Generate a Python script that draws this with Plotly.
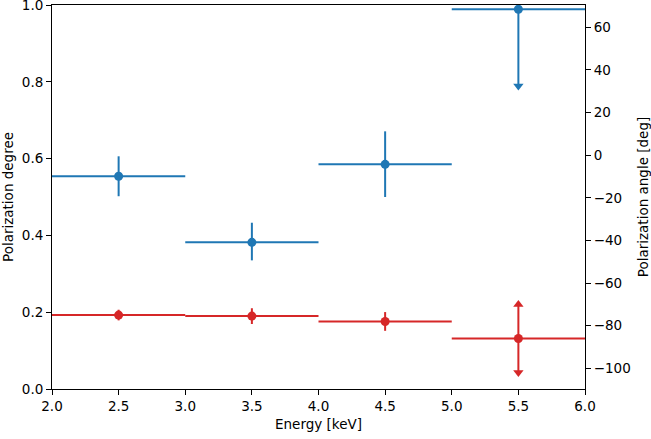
import plotly.graph_objects as go

# ---- data ----
energy = [2.5, 3.5, 4.5, 5.5]
energy_halfwidth = [0.5, 0.5, 0.5, 0.5]

pol_degree = [0.554, 0.382, 0.585, 0.989]
pol_degree_err_plus = [0.052, 0.051, 0.086, 0.0]
pol_degree_err_minus = [0.052, 0.047, 0.085, 0.200]
pol_degree_uplim = [False, False, False, True]

pol_angle = [-75.0, -75.5, -78.0, -86.0]
pol_angle_err = [2.5, 3.7, 4.4, 16.0]
pol_angle_unconstrained = [False, False, False, True]

x_ticks = [2.0, 2.5, 3.0, 3.5, 4.0, 4.5, 5.0, 5.5, 6.0]
left_ticks = [0.0, 0.2, 0.4, 0.6, 0.8, 1.0]
right_ticks = [-100, -80, -60, -40, -20, 0, 20, 40, 60]

BLUE = "#1f77b4"
RED = "#d62728"
FONT = "DejaVu Sans"
FS = 13.5

fig = go.Figure()

# Polarization degree (left axis)
fig.add_trace(go.Scatter(
    x=energy, y=pol_degree, mode="markers",
    marker=dict(color=BLUE, size=9, symbol="circle"),
    error_x=dict(type="data", array=energy_halfwidth, symmetric=True,
                 color=BLUE, thickness=2, width=0),
    error_y=dict(type="data", array=pol_degree_err_plus,
                 arrayminus=pol_degree_err_minus, symmetric=False,
                 color=BLUE, thickness=2, width=0),
    showlegend=False, yaxis="y", cliponaxis=False,
))
ul_x = [e for e, u in zip(energy, pol_degree_uplim) if u]
ul_y = [v - m for v, m, u in zip(pol_degree, pol_degree_err_minus, pol_degree_uplim) if u]
fig.add_trace(go.Scatter(
    x=ul_x, y=ul_y, mode="markers",
    marker=dict(color=BLUE, size=9, symbol="triangle-down", line=dict(width=0)),
    showlegend=False, yaxis="y",
))

# Polarization angle (right axis)
fig.add_trace(go.Scatter(
    x=energy, y=pol_angle, mode="markers",
    marker=dict(color=RED, size=9, symbol="circle"),
    error_x=dict(type="data", array=energy_halfwidth, symmetric=True,
                 color=RED, thickness=2, width=0),
    error_y=dict(type="data", array=pol_angle_err, symmetric=True,
                 color=RED, thickness=2, width=0),
    showlegend=False, yaxis="y2",
))
uc_x = [e for e, u in zip(energy, pol_angle_unconstrained) if u]
up_y = [a + d for a, d, u in zip(pol_angle, pol_angle_err, pol_angle_unconstrained) if u]
dn_y = [a - d for a, d, u in zip(pol_angle, pol_angle_err, pol_angle_unconstrained) if u]
fig.add_trace(go.Scatter(
    x=uc_x, y=up_y, mode="markers",
    marker=dict(color=RED, size=9, symbol="triangle-up", line=dict(width=0)),
    showlegend=False, yaxis="y2",
))
fig.add_trace(go.Scatter(
    x=uc_x, y=dn_y, mode="markers",
    marker=dict(color=RED, size=9, symbol="triangle-down", line=dict(width=0)),
    showlegend=False, yaxis="y2",
))

axis_common = dict(
    showgrid=False, zeroline=False, showline=True, linecolor="black",
    linewidth=1, ticks="outside", ticklen=5, tickwidth=1, tickcolor="black",
    tickfont=dict(family=FONT, size=FS, color="black"),
    ticklabeloverflow="allow",
)

fig.update_layout(
    width=651, height=439,
    margin=dict(l=52, r=66, t=5, b=50, autoexpand=False),
    paper_bgcolor="white", plot_bgcolor="white",
    font=dict(family=FONT, size=FS, color="black"),
    xaxis=dict(range=[2.0, 6.0], tickvals=x_ticks,
               ticktext=[f"{t:.1f}" for t in x_ticks], mirror=True,
               title=dict(text="Energy [keV]", standoff=6,
                          font=dict(family=FONT, size=FS)),
               **axis_common),
    yaxis=dict(range=[0.0, 1.0], tickvals=left_ticks,
               ticktext=[f"{t:.1f}" for t in left_ticks],
               title=dict(text="Polarization degree", standoff=6,
                          font=dict(family=FONT, size=FS)),
               **axis_common),
    yaxis2=dict(range=[-109.7, 70.5], tickvals=right_ticks,
                ticktext=[str(t).replace("-", "\u2212") for t in right_ticks],
                overlaying="y", side="right",
                title=dict(text="Polarization angle [deg]", standoff=18,
                           font=dict(family=FONT, size=FS)),
                **axis_common),
)

fig.write_html("out.html",
               config={"displayModeBar": False},
               post_script="document.body.style.margin='0';document.body.style.overflow='hidden';")
